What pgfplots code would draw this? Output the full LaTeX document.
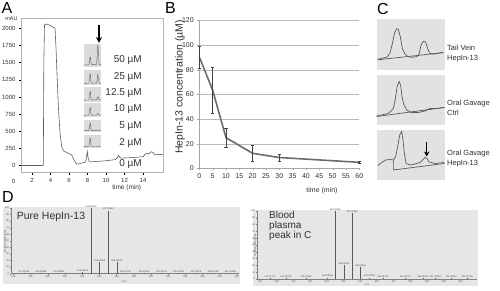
\documentclass[border=0pt]{standalone}
\usepackage{pgfplots}
\pgfplotsset{compat=1.18}
\usepackage{fontspec}
\setmainfont{Liberation Sans}
\usetikzlibrary{arrows.meta}
\definecolor{trace}{HTML}{5E5E5E}
\definecolor{txt}{HTML}{303030}
\definecolor{boxbg}{HTML}{E2E2E2}
\definecolor{specbg}{HTML}{E6E6E6}
\pgfplotsset{
  mini/.style={anchor=south west, scale only axis, width=17.7pt, xmin=0,xmax=1,ymin=0,ymax=1,
    ticks=none, axis line style={draw=none}, axis background/.style={fill=black!14}},
  cbox/.style={anchor=south west, scale only axis, width=68.3pt, xmin=0,xmax=1,ymin=0,ymax=1,
    ticks=none, axis line style={draw=none}, axis background/.style={fill=boxbg}},
  spec/.style={anchor=south west, scale only axis, ymin=0, ymax=100,
    xtick={316,318,...,342}, ytick={0,10,...,100},
    axis lines*=left, axis line style={-, gray}, tick style={gray, line width=0.3pt},
    tick align=outside, major tick length=1.2pt,
    ticklabel style={font=\fontsize{2.5}{3}\selectfont, text=black!70, inner sep=0.5pt},
    /pgf/number format/assume math mode=true, clip=false},
  peaklbl/.style={ycomb, no marks, gray!70!black, line width=0.5pt, nodes near coords,
    point meta=explicit symbolic,
    every node near coord/.style={font=\fontsize{2.3}{3}\selectfont, anchor=south, inner sep=0.4pt, text=black!75}}
}
\begin{document}
\begin{tikzpicture}[x=1pt,y=1pt]
\useasboundingbox (0,0) rectangle (500,291);

% ---------------- Panel A ----------------
\begin{axis}[at={(21pt,118.3pt)}, anchor=south west, scale only axis, width=142pt, height=154.7pt,
  xmin=0.81, xmax=16.16, ymin=-102, ymax=2150,
  xtick={2,4,...,14}, ytick={0,250,...,2000},
  axis line style={gray!60}, tick pos=left, tick align=outside, major tick length=2pt,
  tick style={black, line width=0.6pt},
  ticklabel style={font=\fontsize{6}{7}\selectfont, text=txt},
  /pgf/number format/assume math mode=true,
  /pgf/number format/1000 sep={}, clip=false]
\addplot[trace, line width=0.6pt] coordinates {
(0.81,3)(3.1,3)(3.22,8)(3.28,1500)(3.35,2050)(3.6,2062)(4.0,2040)(4.49,2000)(4.6,1700)
(4.67,1441)(4.85,859)(5.03,471)(5.21,277)(5.4,220)(5.57,204)(5.93,180)(6.29,156)(6.54,83)
(6.83,20)(7.3,35)(7.73,50)(7.85,90)(7.98,204)(8.08,100)(8.2,55)(9,62)(10,72)(11,88)
(11.2,110)(11.35,150)(11.5,118)(11.7,110)(12.5,115)(13.5,125)(14.03,131)(14.2,165)
(14.4,180)(14.6,170)(14.9,204)(15.1,190)(15.27,156)(15.7,165)(16.16,160)};
\node[font=\fontsize{6}{7}\selectfont, text=txt, anchor=north] at (axis cs:0,-102) [yshift=-3.5pt] {0};
\end{axis}
\node[font=\fontsize{5.5}{6}\selectfont, text=txt] at (11.5,272.3) {mAU};
\node[font=\fontsize{6.5}{7}\selectfont, text=txt] at (126.7,102.7) {time (min)};
\foreach \yy/\lab in {231/50, 213.5/25, 198/12.5, 181.5/10, 164.5/5, 148/2, 126.5/0}
  \node[font=\fontsize{10}{11}\selectfont, text=txt, anchor=east, inner sep=0pt] at (142,\yy) {\lab\ µM};

% mini chromatograms
\begin{axis}[mini, at={(83.5pt,223.5pt)}, height=23.5pt]
\addplot[gray!80!black, line width=0.4pt] coordinates {(0,0.1)(0.30,0.12)(0.34,0.24)(0.365,0.42)(0.38,0.45)(0.395,0.42)(0.42,0.22)(0.46,0.12)(0.73,0.12)(0.77,0.41)(0.795,0.87)(0.81,0.95)(0.825,0.87)(0.85,0.37)(0.89,0.12)(1,0.12)};
\end{axis}
\begin{axis}[mini, at={(83.5pt,206pt)}, height=15pt]
\addplot[gray!80!black, line width=0.4pt] coordinates {(0,0.1)(0.30,0.12)(0.34,0.34)(0.365,0.69)(0.38,0.75)(0.395,0.69)(0.42,0.31)(0.46,0.12)(0.73,0.12)(0.77,0.32)(0.795,0.64)(0.81,0.70)(0.825,0.64)(0.85,0.29)(0.89,0.12)(1,0.12)};
\end{axis}
\begin{axis}[mini, at={(83.5pt,189.3pt)}, height=14.7pt]
\addplot[gray!80!black, line width=0.4pt] coordinates {(0,0.1)(0.30,0.12)(0.34,0.32)(0.365,0.64)(0.38,0.70)(0.395,0.64)(0.42,0.29)(0.46,0.12)(0.73,0.12)(0.77,0.2)(0.795,0.33)(0.81,0.35)(0.825,0.33)(0.85,0.19)(0.89,0.12)(1,0.12)};
\end{axis}
\begin{axis}[mini, at={(83.5pt,174.3pt)}, height=13.2pt]
\addplot[gray!80!black, line width=0.4pt] coordinates {(0,0.1)(0.30,0.12)(0.34,0.32)(0.365,0.64)(0.38,0.70)(0.395,0.64)(0.42,0.29)(0.46,0.12)(0.73,0.12)(0.77,0.17)(0.795,0.24)(0.81,0.25)(0.825,0.24)(0.85,0.16)(0.89,0.12)(1,0.12)};
\end{axis}
\begin{axis}[mini, at={(83.5pt,159pt)}, height=12pt]
\addplot[gray!80!black, line width=0.4pt] coordinates {(0,0.1)(0.30,0.12)(0.34,0.34)(0.365,0.69)(0.38,0.75)(0.395,0.69)(0.42,0.31)(0.46,0.12)(0.74,0.12)(0.78,0.15)(0.81,0.18)(0.84,0.15)(0.88,0.12)(1,0.12)};
\end{axis}
\begin{axis}[mini, at={(83.5pt,143pt)}, height=12.5pt]
\addplot[gray!80!black, line width=0.4pt] coordinates {(0,0.1)(0.30,0.12)(0.34,0.36)(0.365,0.73)(0.38,0.8)(0.395,0.73)(0.42,0.32)(0.46,0.12)(0.75,0.12)(0.81,0.14)(0.87,0.12)(1,0.12)};
\end{axis}
\draw[-{Stealth[length=6pt,width=6pt]}, line width=1.5pt] (99,266) -- (99,248);

% ---------------- Panel B ----------------
\begin{axis}[at={(199.3pt,122.5pt)}, anchor=south west, scale only axis, width=160pt, height=148pt,
  xmin=0, xmax=60, ymin=0, ymax=120, xtick={0,5,...,60}, ytick={0,20,...,120},
  axis lines*=left, axis line style={-, gray!70}, ymajorgrids, grid style={gray!55, line width=0.5pt},
  tick align=outside, major tick length=2pt, tick style={gray!70},
  ticklabel style={font=\fontsize{7}{8}\selectfont, text=txt},
  /pgf/number format/assume math mode=true, clip=false]
\addplot[gray!85!black, line width=1.6pt, no marks,
  error bars/.cd, y dir=both, y explicit,
  error bar style={line width=0.5pt, black!75},
  error mark options={rotate=90, mark size=1.6pt, line width=0.5pt, black!75}]
  coordinates {(0,90.5) +- (0,9) (5,63.6) +- (0,18.8) (10,25) +- (0,8) (20,12.3) +- (0,6.8) (30,8.9) +- (0,2.9) (60,5) +- (0,1)};
\end{axis}
\node[font=\fontsize{10.5}{12}\selectfont, text=txt, rotate=90] at (180,204) {HepIn-13 concentration (µM)};
\node[font=\fontsize{7}{8}\selectfont, text=txt] at (322,100.5) {time (min)};

% ---------------- Panel C ----------------
\begin{axis}[cbox, at={(376.7pt,221pt)}, height=51pt]
\addplot[black!65, line width=0.7pt] coordinates {(0.015,0.20)(0.976,0.34)};
\addplot[black!65, line width=0.7pt] coordinates {(0.015,0.21)(0.146,0.25)(0.195,0.33)(0.23,0.52)(0.26,0.72)(0.29,0.81)(0.317,0.80)(0.346,0.65)(0.376,0.42)(0.415,0.31)(0.46,0.26)(0.51,0.25)(0.585,0.26)(0.62,0.31)(0.65,0.49)(0.68,0.56)(0.717,0.55)(0.746,0.42)(0.776,0.33)(0.83,0.31)(0.976,0.35)};
\end{axis}
\begin{axis}[cbox, at={(376.7pt,166pt)}, height=50pt]
\addplot[black!65, line width=0.7pt] coordinates {(0,0.17)(0.99,0.35)};
\addplot[black!65, line width=0.7pt] coordinates {(0,0.18)(0.17,0.23)(0.244,0.33)(0.27,0.5)(0.3,0.77)(0.327,0.87)(0.35,0.8)(0.37,0.57)(0.4,0.4)(0.44,0.3)(0.51,0.25)(0.61,0.25)(0.707,0.28)(0.78,0.33)(0.88,0.33)(0.99,0.35)};
\end{axis}
\begin{axis}[cbox, at={(376.7pt,111pt)}, height=50pt]
\addplot[black!65, line width=0.7pt] coordinates {(0.244,0.4)(0.244,0.2)(0.99,0.33)};
\addplot[black!65, line width=0.7pt] coordinates {(0.015,0.29)(0.073,0.35)(0.13,0.4)(0.195,0.41)(0.244,0.4)(0.278,0.47)(0.307,0.67)(0.337,0.9)(0.366,0.97)(0.385,0.8)(0.405,0.53)(0.43,0.33)(0.49,0.3)(0.56,0.32)(0.634,0.35)(0.673,0.4)(0.707,0.45)(0.737,0.43)(0.766,0.36)(0.85,0.33)(0.99,0.35)};
\end{axis}
\draw[-{Stealth[length=5pt,width=5.5pt]}, line width=1.4pt] (426.7,148.5) -- (426.7,134.5);
\begin{scope}[every node/.style={font=\fontsize{7.5}{8}\selectfont, text=txt, anchor=west, inner sep=0pt}]
\node at (447,242.7) {Tail Vein};
\node at (447,232) {HepIn-13};
\node at (447,187.7) {Oral Gavage};
\node at (447,177.7) {Ctrl};
\node at (447,137) {Oral Gavage};
\node at (447,127) {HepIn-13};
\end{scope}

% ---------------- Panel D ----------------
\fill[specbg] (3,7) rectangle (240,84.3);
\fill[specbg] (253,5) rectangle (478.3,81);
\begin{axis}[spec, at={(11pt,17.3pt)}, width=228pt, height=65.7pt, xmin=315.73, xmax=342.24]
\addplot[peaklbl] coordinates {
(317.23,1) [317.23381] (319.21,1) [319.20698] (321.28,1) [321.28280] (324.06,2.5) [324.06298]
(325.02,100) [325.02290] (326.04,18) [326.03608] (327.03,96) [327.02383] (328.03,18) [328.03418]
(329.03,1.5) [329.02729] (331.21,1) [331.20890] (333.24,1) [333.24274] (335.22,1) [335.22250]
(337.24,1) [337.23878] (339.21,1) [339.21268] (341.22,1) [341.22068]};
\end{axis}
\node[font=\fontsize{2.5}{3}\selectfont, rotate=90, text=black!70] at (5,50) {Relative Abundance};
\node[font=\fontsize{2.5}{3}\selectfont, text=black!70] at (124,9.5) {m/z};
\node[font=\fontsize{10.5}{12}\selectfont, text=txt, anchor=west, inner sep=0pt] at (16.7,74.3) {Pure HepIn-13};

\begin{axis}[spec, at={(257pt,12pt)}, width=219.7pt, height=68pt, xmin=315.64, xmax=341.95]
\addplot[peaklbl] coordinates {
(317.2,1) [317.21773] (319.1,1) [319.22060] (321.5,1) [321.28163] (324.1,2) [324.06260]
(325.02,100) [325.02293] (326.03,20) [326.03574] (327.03,97) [327.02316] (328.03,18) [328.03440]
(329.1,2) [329.03785] (330.7,1.5) [330.48779] (333.4,1) [333.34773] (335.5,1) [335.42769]
(337.0,1) [337.37328] (338.9,1.5) [339.30553] (340.8,1) [341.27078]};
\end{axis}
\node[font=\fontsize{2.5}{3}\selectfont, rotate=90, text=black!70] at (255,46) {Relative Abundance};
\node[font=\fontsize{2.5}{3}\selectfont, text=black!70] at (367,6.5) {m/z};
\node[font=\fontsize{10}{10}\selectfont, text=txt, anchor=north west, align=left, inner sep=0pt] at (269,79.5) {Blood\\plasma\\peak in C};

% panel letters
\begin{scope}[every node/.style={font=\fontsize{16}{17}\selectfont, anchor=north west, inner sep=0pt}]
\node at (1.5,288.5) {A};
\node at (165,289) {B};
\node at (377,287.5) {C};
\node at (2,99.3) {D};
\end{scope}
\end{tikzpicture}
\end{document}
